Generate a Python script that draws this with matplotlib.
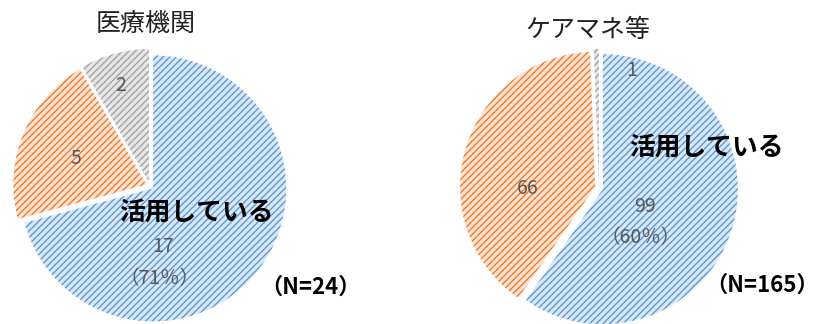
import matplotlib
matplotlib.use("Agg")
import matplotlib.pyplot as plt

plt.rcParams['font.family'] = ['Noto Sans CJK JP', 'DejaVu Sans']
plt.rcParams['hatch.linewidth'] = 1.0

# データ
titles = ["医療機関", "ケアマネ等"]
values_left = [17, 5, 2]
values_right = [99, 66, 1]
n_labels = ["（N=24）", "（N=165）"]
pct_labels = ["（71％）", "（60％）"]
main_label = "活用している"

fill_colors = ["#dae7f6", "#fce2cf", "#e6e6e6"]
hatch_colors = ["#5b9bd5", "#ed7d31", "#a5a5a5"]

W, H = 819, 324
fig = plt.figure(figsize=(W / 100, H / 100), dpi=100)


def px_text(x, y, s, **kw):
    fig.text(x / W, 1 - y / H, s, ha="center", va="center", **kw)


def draw_pie(cx, cy, R, values):
    lim = 1.2
    size = 2 * lim * R
    ax = fig.add_axes([(cx - size / 2) / W, 1 - (cy + size / 2) / H, size / W, size / H])
    wedges, _ = ax.pie(values, startangle=90, counterclock=False,
                       explode=[0.03] * len(values), colors=fill_colors[:len(values)])
    for w, hc in zip(wedges, hatch_colors):
        w.set_hatch("/////")
        w.set_edgecolor(hc)
        w.set_linewidth(0)
    ax.set_xlim(-lim, lim)
    ax.set_ylim(-lim, lim)
    ax.axis("off")
    return ax


draw_pie(150, 186, 133, values_left)
draw_pie(599, 188, 135, values_right)

lab_col = "#595959"

# 左
px_text(146, 25, titles[0], fontsize=18, color="#222222")
px_text(121, 85, str(values_left[2]), fontsize=14, color=lab_col)
px_text(76, 159, str(values_left[1]), fontsize=14, color=lab_col)
px_text(196, 212, main_label, fontsize=18.5, fontweight="bold", color="black")
px_text(163, 246, str(values_left[0]), fontsize=14, color=lab_col)
px_text(160, 279, pct_labels[0], fontsize=14, color=lab_col)
px_text(311, 287, n_labels[0], fontsize=16, fontweight="bold", color="black")

# 右
px_text(588, 30, titles[1], fontsize=18, color="#222222")
px_text(632, 70, str(values_right[2]), fontsize=14, color=lab_col)
px_text(528, 188, str(values_right[1]), fontsize=14, color=lab_col)
px_text(706, 147, main_label, fontsize=18.5, fontweight="bold", color="black")
px_text(645, 207, str(values_right[0]), fontsize=14, color=lab_col)
px_text(641, 238, pct_labels[1], fontsize=14, color=lab_col)
px_text(762, 285, n_labels[1], fontsize=16, fontweight="bold", color="black")

fig.savefig("out.png", dpi=100)
